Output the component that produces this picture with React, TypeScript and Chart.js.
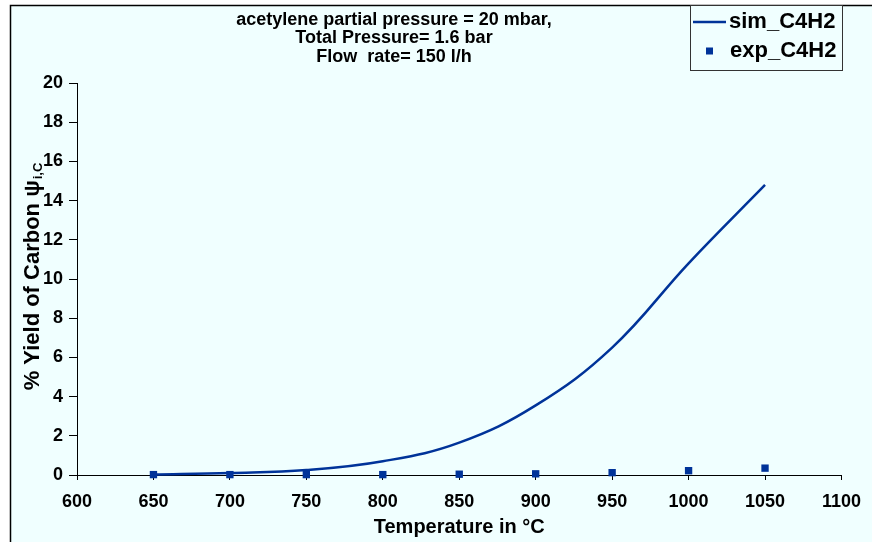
import React, { useEffect, useRef } from "react";
import { Chart, registerables } from "chart.js";

Chart.register(...registerables);

const temperatures = [650, 700, 750, 800, 850, 900, 950, 1000, 1050];
const simC4H2 = [0.02, 0.1, 0.25, 0.7, 1.65, 3.55, 6.5, 10.8, 14.8];
const expC4H2 = [0.02, 0.02, 0.02, 0.02, 0.04, 0.06, 0.12, 0.22, 0.35];
const seriesNames = ["sim_C4H2", "exp_C4H2"];
const titleLines = [
  "acetylene partial pressure = 20 mbar,",
  "Total Pressure= 1.6 bar",
  "Flow  rate= 150 l/h",
];
const xAxisTitle = "Temperature in °C";
const yAxisTitleMain = "% Yield of Carbon ψ";
const yAxisTitleSub = "i,C";
const xMin = 600;
const xMax = 1100;
const xStep = 50;
const yMin = 0;
const yMax = 20;
const yStep = 2;

const FONT = "'Liberation Sans', Arial, Helvetica, sans-serif";
const SERIES_COLOR = "#003399";
const BG = "#F0FFFF";

const backgroundPlugin = {
  id: "bgFrame",
  beforeDraw(chart: any) {
    const { ctx, width, height } = chart;
    ctx.save();
    ctx.fillStyle = "#ffffff";
    ctx.fillRect(0, 0, width, height);
    ctx.fillStyle = BG;
    ctx.fillRect(10, 5, width - 10, height - 5);
    ctx.strokeStyle = "#000000";
    ctx.lineWidth = 1.5;
    ctx.beginPath();
    ctx.moveTo(10.5, height);
    ctx.lineTo(10.5, 5.5);
    ctx.lineTo(width, 5.5);
    ctx.stroke();
    ctx.restore();
  },
};

const decorPlugin = {
  id: "decor",
  afterDraw(chart: any) {
    const { ctx } = chart;
    ctx.save();
    // title
    ctx.fillStyle = "#000";
    ctx.font = `bold 18px ${FONT}`;
    ctx.textAlign = "center";
    ctx.textBaseline = "middle";
    titleLines.forEach((line, i) => {
      ctx.fillText(line, 394, 20 + i * 18.5);
    });

    // legend box
    ctx.fillStyle = BG;
    ctx.fillRect(690.5, 5.5, 152, 65);
    ctx.strokeStyle = "#333";
    ctx.lineWidth = 1;
    ctx.strokeRect(690.5, 5.5, 152, 65);
    // sim line sample
    ctx.strokeStyle = SERIES_COLOR;
    ctx.lineWidth = 2.5;
    ctx.beginPath();
    ctx.moveTo(693, 22);
    ctx.lineTo(726, 22);
    ctx.stroke();
    // exp square sample
    ctx.fillStyle = SERIES_COLOR;
    ctx.fillRect(706, 47.5, 7, 7);
    ctx.fillStyle = "#000";
    ctx.font = `bold 22px ${FONT}`;
    ctx.textAlign = "left";
    ctx.textBaseline = "middle";
    ctx.fillText(seriesNames[0], 729, 22);
    ctx.fillText(seriesNames[1], 730, 51);

    // y axis title with subscript
    const area = chart.chartArea;
    const cy = (area.top + area.bottom) / 2 - 2;
    ctx.translate(38.5, cy);
    ctx.rotate(-Math.PI / 2);
    ctx.textAlign = "left";
    ctx.font = `bold 22px ${FONT}`;
    const wMain = ctx.measureText(yAxisTitleMain).width;
    ctx.font = `bold 13px ${FONT}`;
    const wSub = ctx.measureText(yAxisTitleSub).width;
    const start = -(wMain + wSub) / 2;
    ctx.textBaseline = "alphabetic";
    ctx.font = `bold 22px ${FONT}`;
    ctx.fillText(yAxisTitleMain, start, 0);
    ctx.font = `bold 13px ${FONT}`;
    ctx.fillText(yAxisTitleSub, start + wMain + 1, 3.5);
    ctx.restore();
  },
};

export default function App() {
  const canvasRef = useRef<HTMLCanvasElement | null>(null);

  useEffect(() => {
    if (!canvasRef.current) return;
    const chart = new Chart(canvasRef.current, {
      type: "line",
      data: {
        datasets: [
          {
            label: seriesNames[0],
            data: temperatures.map((t, i) => ({ x: t, y: simC4H2[i] })),
            borderColor: SERIES_COLOR,
            backgroundColor: SERIES_COLOR,
            borderWidth: 2.5,
            pointRadius: 0,
            tension: 0.4,
            fill: false,
            clip: false as any,
          },
          {
            label: seriesNames[1],
            data: temperatures.map((t, i) => ({ x: t, y: expC4H2[i] })),
            showLine: false,
            borderColor: SERIES_COLOR,
            backgroundColor: SERIES_COLOR,
            borderWidth: 0,
            pointStyle: "rect",
            pointRadius: 5.2,
            clip: false as any,
          },
        ],
      },
      options: {
        animation: false,
        responsive: false,
        devicePixelRatio: 1,
        layout: { padding: { left: 0, top: 83, right: 26, bottom: 0 } },
        plugins: {
          legend: { display: false },
          tooltip: { enabled: false },
          title: { display: false },
        },
        scales: {
          x: {
            type: "linear",
            min: xMin,
            max: xMax,
            ticks: {
              stepSize: xStep,
              font: { family: FONT, size: 18, weight: "bold" },
              color: "#000",
              padding: 11,
              maxRotation: 0,
              autoSkip: false,
              callback: (v: any) => String(v),
            },
            grid: { drawOnChartArea: false, drawTicks: true, tickLength: 5, color: "#000" },
            border: { color: "#000", width: 1 },
            title: {
              display: true,
              text: xAxisTitle,
              font: { family: FONT, size: 20, weight: "bold" },
              color: "#000",
              padding: { top: 0, bottom: 3 },
            },
            afterFit: (s: any) => {
              s.height = 67;
            },
          },
          y: {
            type: "linear",
            min: yMin,
            max: yMax,
            ticks: {
              stepSize: yStep,
              font: { family: FONT, size: 18, weight: "bold" },
              color: "#000",
              padding: 6,
              callback: (v: any) => String(v),
            },
            grid: { drawOnChartArea: false, drawTicks: true, tickLength: 8, color: "#000" },
            border: { color: "#000", width: 1 },
            afterFit: (s: any) => {
              s.width = 77;
            },
          },
        },
      } as any,
      plugins: [backgroundPlugin, decorPlugin],
    });
    return () => chart.destroy();
  }, []);

  return (
    <div style={{ position: "fixed", left: 0, top: 0, width: 872, height: 542, background: "#fff" }}>
      <canvas ref={canvasRef} width={872} height={542} style={{ display: "block", width: 872, height: 542 }} />
    </div>
  );
}
